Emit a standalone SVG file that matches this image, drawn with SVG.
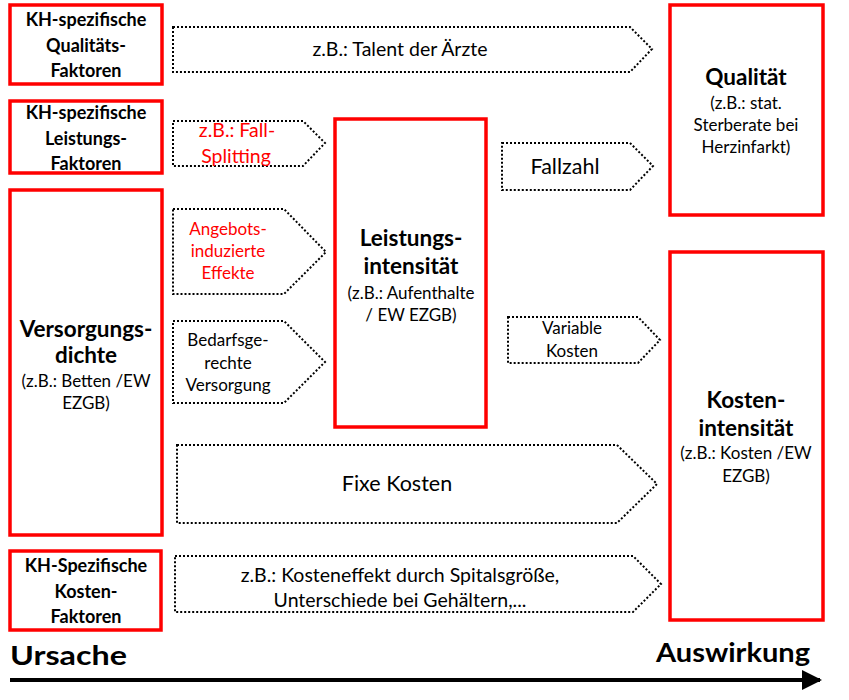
<svg xmlns="http://www.w3.org/2000/svg" width="849" height="700" viewBox="0 0 849 700">
<defs>
<style>
text{font-family:Lato,"Open Sans","Liberation Sans",sans-serif;text-anchor:middle;fill:#000}
.box{fill:#fff;stroke:#ff0000;stroke-width:3.5}
.arr{fill:#fff;stroke:#000;stroke-width:2;stroke-dasharray:2 2}
.hb{font-weight:bold;font-size:18px}
.big{font-weight:bold;font-size:22.5px}
.sub{font-size:17px}
.t{font-size:19.5px}
.m{font-size:21.5px}
.r{fill:#ff0000}
</style>
<marker id="ah" viewBox="0 0 10 10" refX="9" refY="5" markerWidth="5" markerHeight="5" orient="auto" markerUnits="strokeWidth">
<path d="M0,0 L10,5 L0,10 z" fill="#000"/>
</marker>
</defs>
<rect width="849" height="700" fill="#fff"/>

<g id="connectors">
<g id="a-talent"><path class="arr" d="M173,27 H630 L652,49 L630,72 H173 Z"/><text class="t" x="400" y="56">z.B.: Talent der Ärzte</text></g>
<g id="a-fallsplitting"><path class="arr" d="M173,121 H303 L325,143 L303,166 H173 Z"/><text class="t r" x="237" y="137">z.B.: Fall-</text><text class="t r" x="236" y="163">Splitting</text></g>
<g id="a-angebot"><path class="arr" d="M173,209 H284 L326,252 L284,294 H173 Z"/><text class="sub r" x="228" y="235">Angebots-</text><text class="sub r" x="228" y="257">induzierte</text><text class="sub r" x="228" y="279">Effekte</text></g>
<g id="a-bedarf"><path class="arr" d="M173,321 H284 L325,362 L284,403 H173 Z"/><text class="sub" x="228" y="346">Bedarfsge-</text><text class="sub" x="228" y="369">rechte</text><text class="sub" x="228" y="391">Versorgung</text></g>
<g id="a-fallzahl"><path class="arr" d="M502,143 H630 L653,166 L630,190 H502 Z"/><text class="m" x="565" y="174">Fallzahl</text></g>
<g id="a-variable"><path class="arr" d="M508,317 H638 L660,340 L638,363 H508 Z"/><text class="sub" x="572" y="334">Variable</text><text class="sub" x="572" y="357">Kosten</text></g>
<g id="a-fixe"><path class="arr" d="M177,445 H617 L657,484 L617,523 H177 Z"/><text class="m" x="397" y="491">Fixe Kosten</text></g>
<g id="a-kosteneffekt"><path class="arr" d="M175,556 H633 L661,584 L633,612 H175 Z"/><text class="t" x="400" y="582">z.B.: Kosteneffekt  durch  Spitalsgröße,</text><text class="t" x="400" y="607">Unterschiede  bei  Gehältern,...</text></g>
<g id="a-timeline"><line x1="10" y1="680" x2="820" y2="680" stroke="#000" stroke-width="4" marker-end="url(#ah)"/></g>
</g>

<g id="n-qualfaktoren"><rect class="box" x="10" y="5" width="152" height="79"/><text class="hb" x="86" y="26">KH-spezifische</text><text class="hb" x="86" y="52">Qualitäts-</text><text class="hb" x="86" y="77">Faktoren</text></g>
<g id="n-leistfaktoren"><rect class="box" x="10" y="101" width="152" height="72"/><text class="hb" x="86" y="119">KH-spezifische</text><text class="hb" x="86" y="145">Leistungs-</text><text class="hb" x="86" y="170">Faktoren</text></g>
<g id="n-versorgung"><rect class="box" x="10" y="190" width="152" height="345"/><text class="big" x="86" y="337">Versorgungs-</text><text class="big" x="86" y="363">dichte</text><text class="sub" x="86" y="387">(z.B.: Betten /EW</text><text class="sub" x="86" y="409">EZGB)</text></g>
<g id="n-kostenfaktoren"><rect class="box" x="10" y="551" width="151" height="79"/><text class="hb" x="86" y="572">KH-Spezifische</text><text class="hb" x="86" y="598">Kosten-</text><text class="hb" x="86" y="623">Faktoren</text></g>
<g id="n-leistintens"><rect class="box" x="335" y="119" width="151" height="308"/><text class="big" x="411" y="246">Leistungs-</text><text class="big" x="411" y="274">intensität</text><text class="sub" x="411" y="299">(z.B.: Aufenthalte</text><text class="sub" x="411" y="321">/ EW EZGB)</text></g>
<g id="n-qualitaet"><rect class="box" x="670" y="5" width="153" height="210"/><text class="big" x="746" y="85">Qualität</text><text class="sub" x="746" y="109">(z.B.: stat.</text><text class="sub" x="746" y="131">Sterberate bei</text><text class="sub" x="746" y="153">Herzinfarkt)</text></g>
<g id="n-kostenintens"><rect class="box" x="670" y="252" width="153" height="368"/><text class="big" x="746" y="408">Kosten-</text><text class="big" x="746" y="436">intensität</text><text class="sub" x="746" y="459">(z.B.: Kosten /EW</text><text class="sub" x="746" y="482">EZGB)</text></g>

<g id="labels"><text x="10" y="665" font-size="27" font-weight="bold" style="text-anchor:start" textLength="117" lengthAdjust="spacingAndGlyphs">Ursache</text><text x="810" y="662" font-size="27" font-weight="bold" style="text-anchor:end" textLength="154" lengthAdjust="spacingAndGlyphs">Auswirkung</text></g>
</svg>
